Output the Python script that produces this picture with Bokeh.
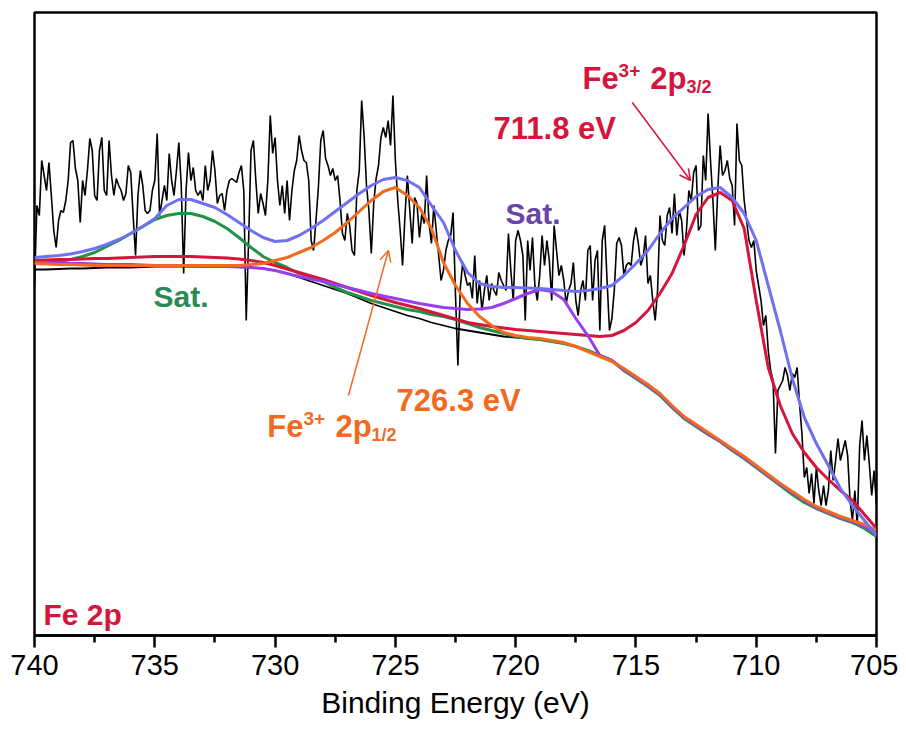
import numpy as np
from bokeh.plotting import figure
from bokeh.models import Range1d, FixedTicker, Label, Arrow, OpenHead
from bokeh.embed import file_html
from bokeh.resources import INLINE

# ---------------- data ----------------
# raw spectrum: binding energy grid (instrument step 0.1 eV) and intensity (a.u.)
be_raw = np.linspace(740.0, 705.0, 351)
raw_intensity = [
    350, 430, 420, 475, 460, 445, 473, 440, 405, 388,
    415, 425, 423, 435, 455, 493, 495, 467, 455, 413,
    455, 440, 465, 497, 485, 440, 435, 485, 498, 445,
    440, 495, 460, 440, 457, 450, 445, 435, 442, 470,
    463, 420, 380, 440, 465, 450, 425, 422, 425, 445,
    455, 502, 420, 435, 450, 435, 482, 455, 440, 465,
    493, 450, 362, 445, 483, 455, 468, 445, 440, 445,
    435, 470, 445, 455, 485, 465, 432, 440, 442, 425,
    445, 455, 457, 455, 453, 463, 470, 445, 315, 395,
    485, 495, 455, 422, 442, 432, 420, 455, 520, 482,
    498, 455, 430, 450, 422, 455, 415, 445, 465, 475,
    500, 485, 475, 473, 455, 395, 385, 415, 448, 495,
    505, 477, 470, 460, 467, 455, 460, 435, 402, 395,
    422, 410, 385, 380, 445, 465, 535, 500, 450, 425,
    382, 432, 457, 470, 498, 508, 498, 515, 490, 540,
    475, 435, 405, 370, 420, 460, 425, 392, 438, 432,
    398, 422, 412, 460, 412, 392, 430, 405, 380, 355,
    365, 385, 395, 400, 423, 340, 270, 348, 373, 360,
    350, 353, 337, 380, 332, 355, 325, 345, 360, 335,
    352, 345, 340, 363, 355, 350, 345, 402, 365, 335,
    395, 405, 395, 380, 315, 395, 365, 398, 350, 335,
    360, 400, 370, 395, 375, 335, 410, 385, 360, 370,
    355, 332, 345, 352, 373, 335, 320, 345, 355, 335,
    385, 390, 335, 375, 385, 305, 395, 410, 355, 305,
    317, 345, 392, 398, 390, 360, 370, 373, 370, 395,
    408, 392, 370, 378, 400, 352, 360, 335, 315, 345,
    420, 395, 390, 420, 428, 402, 442, 400, 425, 415,
    380, 405, 445, 435, 463, 470, 405, 410, 480, 455,
    522, 475, 435, 385, 445, 490, 460, 465, 475, 457,
    450, 410, 512, 475, 470, 435, 415, 395, 388, 395,
    365, 350, 335, 310, 320, 285, 265, 255, 182, 245,
    250, 255, 268, 260, 245, 262, 258, 268, 232, 202,
    158, 168, 142, 162, 132, 168, 145, 130, 150, 130,
    145, 185, 155, 175, 197, 175, 185, 195, 180, 135,
    115, 145, 110, 190, 215, 175, 200, 172, 140, 165,
    130,
]

# fitted curves on a 0.5 eV grid (740 -> 705)
be_fit = np.linspace(740.0, 705.0, 71)
background = [
    366, 366, 366.5, 367, 367, 367.5, 368, 368, 368, 368.5,
    369, 369, 369, 369, 369, 369, 369, 368.5, 368, 367,
    365, 362, 358, 354, 350, 346, 342, 337, 332, 328,
    324, 320, 317, 313, 310, 307, 305, 303, 301, 299,
    298, 297, 296, 294, 292, 289, 285, 280, 275, 265,
    257, 249, 240, 228, 217, 209, 201, 194, 185, 177,
    168, 159, 150, 141, 133, 127, 122, 117, 113, 107,
    99,
]
sat_734 = [
    373, 373.5, 374, 376, 379, 383, 389, 395, 402, 409,
    416, 420, 422, 422, 419, 414, 407, 398, 388, 379,
    373, 368, 362, 359, 354, 348, 343, 339, 335, 332,
    329, 326, 324, 321, 319, 316, 312, 308, 305, 302,
    299, 297, 296, 294, 292, 289, 285, 280, 275, 265,
    257, 249, 240, 228, 217, 209, 201, 194, 185, 177,
    168, 159, 150, 141, 133, 127, 122, 117, 113, 107,
    99,
]
fe3_2p12 = [
    372, 371.5, 371, 371, 370.5, 370, 370, 370, 370, 370,
    370, 370, 370, 370, 370, 370, 370, 370, 371, 372,
    375, 378, 383, 388, 395, 403, 413, 424, 435, 444,
    448, 440, 428, 407, 373, 350, 332, 319, 310, 303,
    300, 298, 297, 295, 293, 289, 284, 279, 274, 267,
    259, 251, 242, 230, 219, 211, 203, 195, 187, 179,
    170, 161, 152, 144, 136, 129, 124, 119, 115, 111,
    105,
]
sat_719 = [
    373, 373, 372.5, 372, 372, 371.5, 371, 371, 371, 370.5,
    370, 370, 370, 369.5, 369, 369, 369, 368.5, 368, 367,
    365, 362, 359, 356.5, 354, 351, 348, 345, 342, 339.5,
    337, 334.5, 332, 330, 328, 327, 326, 326.5, 328, 332,
    337, 342, 346, 344, 336, 317, 300, 280, 275, 266,
    258, 250, 241, 229, 218, 210, 202, 194, 186, 178,
    169, 160, 151, 143, 135, 128, 123, 118, 114, 109,
    102,
]
fe3_2p32 = [
    375, 375.5, 376, 376, 376.5, 377, 377, 377.5, 378, 378.5,
    379, 379, 379, 379, 378.5, 378, 377.5, 376.5, 375, 373,
    370, 366.5, 363, 359.5, 356, 352, 348, 344, 340, 336.5,
    333, 330, 327, 323.5, 320, 316.5, 313, 311, 309, 307.5,
    306, 305, 304, 303, 302, 301, 300, 299, 300, 305,
    313, 325, 342, 362, 390, 421, 438, 443, 435, 407,
    335, 268, 230, 202, 183, 168, 156, 145, 135, 121,
    107,
]
envelope = [
    378, 379, 380, 381.5, 384, 387, 391, 396, 402, 409,
    417, 430, 436, 436, 432, 428, 421, 413, 405, 398,
    394, 395, 400, 407, 415, 424, 433, 442, 450, 456,
    458, 455, 448, 430, 413, 385, 363, 352, 349, 348,
    348, 347.5, 347, 346, 345, 344, 345, 347, 350, 360,
    372, 385, 402, 417, 428, 439, 446, 448, 438, 422,
    395, 350, 305, 257, 218, 192, 170, 147, 130, 115,
    100,
]

major_ticks = [740, 735, 730, 725, 720, 715, 710, 705]
minor_ticks = [737.5, 732.5, 727.5, 722.5, 717.5, 712.5, 707.5]

# ---------------- colours ----------------
C_RED = "#d5153b"
C_ORANGE = "#f26a1d"
C_GREEN = "#1f9446"
C_GREEN_TXT = "#2a8a52"
C_PURPLE = "#9a3cf0"
C_PURPLE_TXT = "#6b44a8"
C_BLUE = "#7070f2"

p = figure(
    width=898, height=723,
    x_range=Range1d(740, 705), y_range=Range1d(0, 623),
    output_backend="svg", toolbar_location=None,
    y_axis_location=None,
    min_border_left=34, min_border_right=22, min_border_top=12, min_border_bottom=88,
    background_fill_color="white", border_fill_color="white",
)
p.xgrid.visible = False
p.ygrid.visible = False
p.outline_line_color = "black"
p.outline_line_width = 2.5
p.outline_line_alpha = 1.0

ax = p.xaxis[0]
ax.ticker = FixedTicker(ticks=major_ticks, minor_ticks=minor_ticks)
ax.axis_line_width = 2.5
ax.major_tick_line_width = 2.5
ax.minor_tick_line_width = 2.5
ax.major_tick_out = 12
ax.major_tick_in = 0
ax.minor_tick_out = 7
ax.minor_tick_in = 0
ax.major_label_text_font = "Liberation Sans"
ax.major_label_text_font_size = "29px"
ax.major_label_text_color = "black"
ax.major_label_standoff = 7
ax.axis_label = "Binding Energy (eV)"
ax.axis_label_text_font = "Liberation Sans"
ax.axis_label_text_font_size = "30px"
ax.axis_label_text_font_style = "normal"
ax.axis_label_text_color = "black"
ax.axis_label_standoff = 8

# raw data
p.line(be_raw, raw_intensity, line_color="black", line_width=1.6)
# fit components
p.line(be_fit, background, line_color="black", line_width=1.8)
p.line(be_fit, sat_734, line_color=C_GREEN, line_width=3)
p.line(be_fit, fe3_2p32, line_color=C_RED, line_width=3)
p.line(be_fit, sat_719, line_color=C_PURPLE, line_width=3)
p.line(be_fit, fe3_2p12, line_color=C_ORANGE, line_width=3)
p.line(be_fit, envelope, line_color=C_BLUE, line_width=3)

FONT = "Liberation Sans"

def lab(x, y, text, color, size, bold=True):
    p.add_layout(Label(x=x, y=y, text=text, text_color=color,
                       text_font=FONT, text_font_size=size,
                       text_font_style="bold" if bold else "normal",
                       text_align="left", text_baseline="alphabetic"))

# annotations
lab(739.63, 21, "Fe 2p", C_RED, "30px")
lab(735.05, 339, "Sat.", C_GREEN_TXT, "30px")
lab(720.42, 422, "Sat.", C_PURPLE_TXT, "30px")

# Fe3+ 2p3/2 (red)
lab(720.92, 507, "711.8 eV", C_RED, "31px")
lab(717.22, 557, "Fe", C_RED, "31px")
lab(715.72, 565, "3+", C_RED, "19px")
lab(714.40, 557, "2p", C_RED, "31px")
lab(712.90, 549, "3/2", C_RED, "18px")

# Fe3+ 2p1/2 (orange)
lab(724.95, 235, "726.3 eV", C_ORANGE, "31px")
lab(730.32, 209, "Fe", C_ORANGE, "31px")
lab(728.82, 217, "3+", C_ORANGE, "19px")
lab(727.49, 209, "2p", C_ORANGE, "31px")
lab(725.99, 201, "1/2", C_ORANGE, "18px")

p.add_layout(Arrow(end=OpenHead(size=11, line_color=C_RED, line_width=1.5),
                   x_start=715.15, y_start=533, x_end=712.73, y_end=455,
                   line_color=C_RED, line_width=1.5))
p.add_layout(Arrow(end=OpenHead(size=11, line_color=C_ORANGE, line_width=1.5),
                   x_start=726.95, y_start=240, x_end=725.29, y_end=385,
                   line_color=C_ORANGE, line_width=1.5))

open("out.html", "w").write(file_html(p, INLINE, title="Fe 2p XPS"))
